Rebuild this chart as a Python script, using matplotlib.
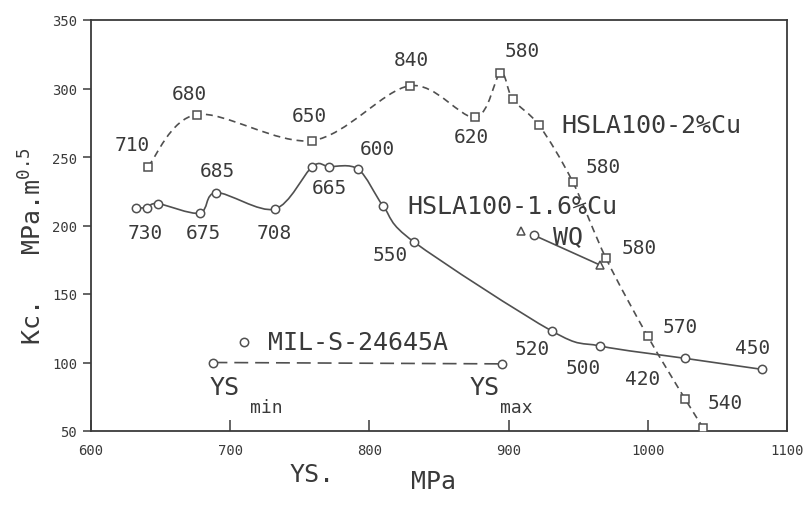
import numpy as np
import matplotlib
matplotlib.use("Agg")
import matplotlib.pyplot as plt
from matplotlib.path import Path
from matplotlib.patches import PathPatch

plt.rcParams["font.family"] = ["DejaVu Sans Mono"]
plt.rcParams["mathtext.fontset"] = "custom"
plt.rcParams["mathtext.rm"] = "DejaVu Sans Mono"
plt.rcParams["mathtext.it"] = "DejaVu Sans Mono"
plt.rcParams["lines.scale_dashes"] = False

# HSLA100-2%Cu (squares, dashed)
cu20_ys = [641, 676, 759, 829, 876, 894, 903, 922, 946, 970, 1000, 1027, 1040]
cu20_kc = [243, 281, 262, 302, 279, 311, 292, 273, 232, 176, 119, 73, 52]

# HSLA100-1.6%Cu (circles, solid)
cu16_ys = [632, 640, 648, 678, 690, 732, 759, 771, 792, 810, 832, 931, 966, 1027, 1082]
cu16_kc = [213, 213, 216, 209, 224, 212, 243, 243, 241, 214, 188, 123, 112, 103, 95]

# water-quenched condition
wq_ys = [909, 918, 966]
wq_kc = [196, 193, 171]
wq_markers = ["^", "o", "^"]

# MIL-S-24645A requirement between YS min and YS max
mil_ys = [688, 895]
mil_kc = [100, 99]
mil_key = (710, 115)

# tempering temperature labels (text, YS, Kc)
temp_labels = [
    ("710", 629.5, 259), ("680", 671, 296), ("650", 757, 280), ("840", 830.5, 321),
    ("620", 873, 265), ("580", 909.5, 328), ("580", 968, 243), ("580", 994, 184),
    ("570", 1023, 126.5), ("540", 1055.5, 71), ("420", 996, 88.5), ("450", 1075, 111),
    ("500", 953.5, 96.5), ("520", 917, 110), ("550", 815, 179), ("600", 806, 256),
    ("665", 771.5, 227.5), ("685", 691, 240.5), ("730", 639, 195), ("675", 680.5, 195),
    ("708", 732, 195),
]

x_ticks = [600, 700, 800, 900, 1000, 1100]
y_ticks = [50, 100, 150, 200, 250, 300, 350]

INK = "#3a3a3a"
LINE = "#505050"


def smooth_path(xs, ys, k=0.16):
    """Cubic Bezier path through the points (Catmull-Rom style tangents)."""
    pts = np.column_stack([xs, ys]).astype(float)
    n = len(pts)
    verts = [pts[0]]
    codes = [Path.MOVETO]
    for i in range(n - 1):
        p0 = pts[i - 1] if i > 0 else pts[i]
        p1 = pts[i]
        p2 = pts[i + 1]
        p3 = pts[i + 2] if i + 2 < n else pts[i + 1]
        verts += [p1 + (p2 - p0) * k, p2 - (p3 - p1) * k, p2]
        codes += [Path.CURVE4] * 3
    return Path(verts, codes)


fig = plt.figure(figsize=(8.09, 5.06), dpi=100)
ax = fig.add_axes([91 / 809, 1 - 432 / 506, (787 - 91) / 809, (432 - 21) / 506])
ax.set_xlim(600, 1100)
ax.set_ylim(50, 350)

# curves
ax.add_patch(PathPatch(smooth_path(cu20_ys, cu20_kc), fill=False, ec=LINE, lw=1.2,
                       linestyle=(0, (5, 3.5))))
ax.add_patch(PathPatch(smooth_path(cu16_ys, cu16_kc), fill=False, ec=LINE, lw=1.2))
ax.plot(wq_ys[1:], wq_kc[1:], color=LINE, lw=1.2)
ax.plot(mil_ys, mil_kc, color=LINE, lw=1.2, linestyle=(0, (10, 5)))

mk = dict(ls="none", mfc="white", mec=LINE, mew=1.1, zorder=5)
ax.plot(cu20_ys, cu20_kc, marker="s", ms=5.5, **mk)
ax.plot(cu16_ys, cu16_kc, marker="o", ms=6, **mk)
for x, y, m in zip(wq_ys, wq_kc, wq_markers):
    ax.plot([x], [y], marker=m, ms=6 if m == "o" else 5.5, **mk)
ax.plot(mil_ys, mil_kc, marker="o", ms=6, **mk)
ax.plot([mil_key[0]], [mil_key[1]], marker="o", ms=6, **mk)

# text
for t, x, y in temp_labels:
    ax.text(x, y, t, ha="center", va="center", fontsize=14, color=INK)

ax.text(938, 273.5, "HSLA100-2%Cu", ha="left", va="center", fontsize=18, color=INK)
ax.text(827, 214, "HSLA100-1.6%Cu", ha="left", va="center", fontsize=18, color=INK)
ax.text(942.5, 192, "WQ", ha="center", va="center", fontsize=18, color=INK)
ax.text(727, 115, "MIL-S-24645A", ha="left", va="center", fontsize=18, color=INK)
ax.text(685, 82, "YS", ha="left", va="center", fontsize=18, color=INK)
ax.text(714, 67.5, "min", ha="left", va="center", fontsize=13, color=INK)
ax.text(872, 82, "YS", ha="left", va="center", fontsize=18, color=INK)
ax.text(894, 67.5, "max", ha="left", va="center", fontsize=13, color=INK)

# axes styling
for s in ax.spines.values():
    s.set_color(INK)
    s.set_linewidth(1.3)
ax.set_xticks(x_ticks)
ax.set_yticks(y_ticks)
ax.tick_params(axis="x", direction="in", length=8, width=1.1, color=INK,
               labelsize=10, labelcolor=INK, pad=9)
ax.tick_params(axis="y", direction="out", length=6, width=1.1, color=INK,
               labelsize=10, labelcolor=INK, pad=4)

fig.text(33 / 809, 1 - 246 / 506, "Kc.   MPa.m$^{0.5}$", rotation=90, ha="center",
         va="center", fontsize=18, color=INK)
fig.text(290 / 809, 1 - 482 / 506, "YS.", ha="left", va="baseline", fontsize=18, color=INK)
fig.text(411 / 809, 1 - 489 / 506, "MPa", ha="left", va="baseline", fontsize=18, color=INK)

fig.savefig("out.png", dpi=100)
